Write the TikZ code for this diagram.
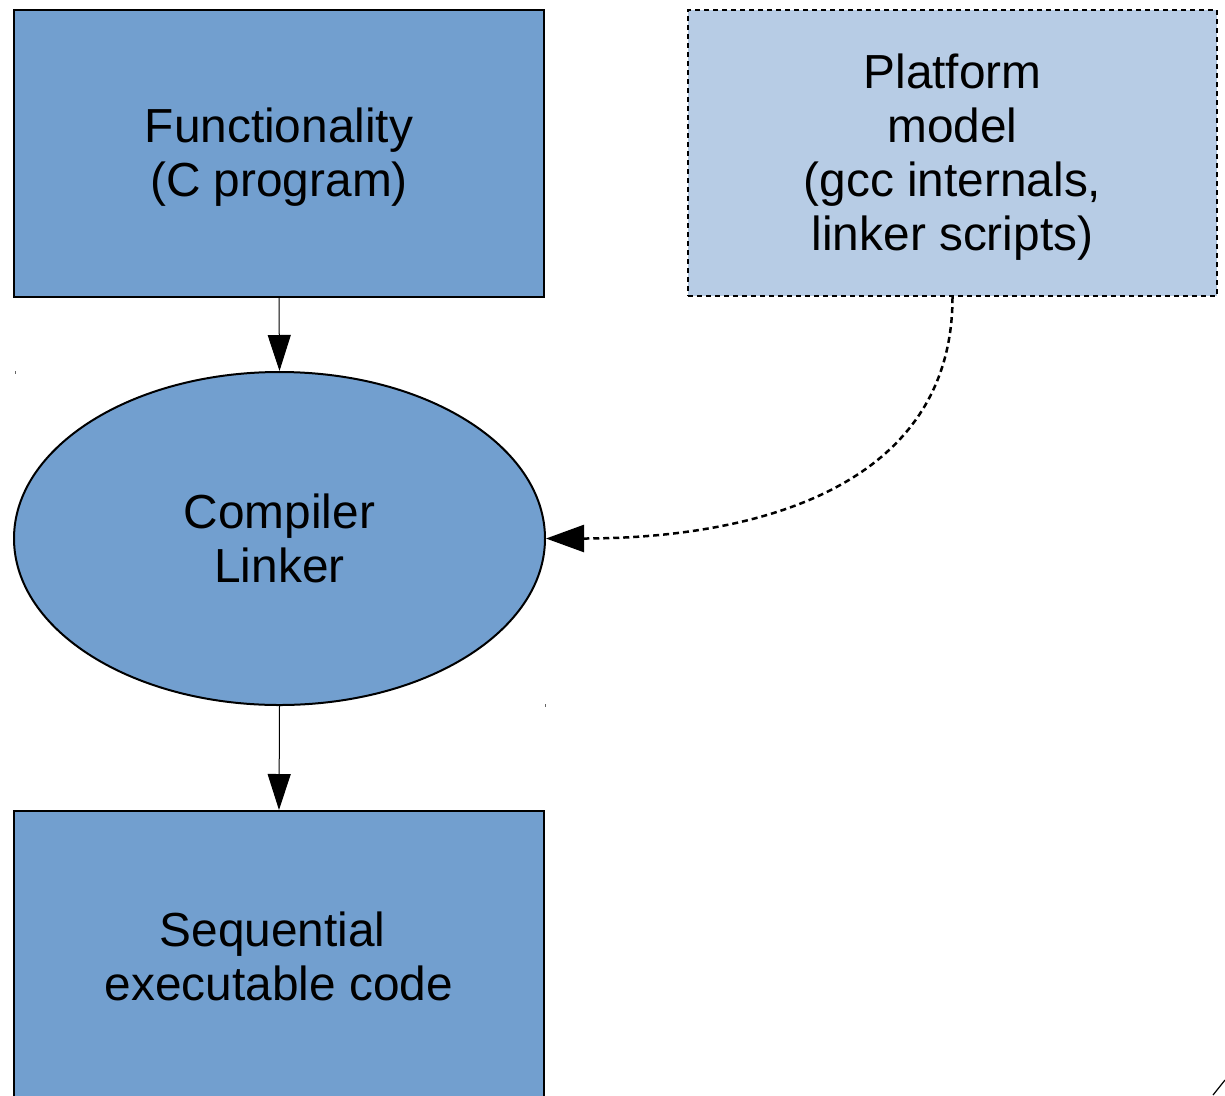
\documentclass[tikz,border=0pt]{standalone}
\usepackage{fontspec}
\setmainfont{Liberation Sans}
\usetikzlibrary{arrows.meta,shapes.geometric}
\definecolor{boxblue}{HTML}{729FCF}
\definecolor{lightblue}{HTML}{B7CCE5}
\tikzset{
  txt/.style={font=\fontsize{47.8}{54}\selectfont, align=center, text=black},
  solidbox/.style={txt, draw=black, line width=2pt, fill=boxblue, rectangle, minimum width=530pt, inner sep=0pt},
  dotbox/.style={txt, draw=black, line width=2.2pt, dash pattern=on 5pt off 4pt, fill=lightblue, rectangle, minimum width=529pt, minimum height=286pt, inner sep=0pt},
  ell/.style={txt, draw=black, line width=2pt, fill=boxblue, ellipse, minimum width=531pt, minimum height=333pt, inner sep=0pt},
  conn/.style={line width=1pt, -{Triangle[length=36pt,width=23pt]}},
  dconn/.style={line width=2.5pt, dash pattern=on 6pt off 4pt, -{Triangle[length=38pt,width=27pt]}},
}
\begin{document}
\begin{tikzpicture}[x=1pt,y=-1pt]
\useasboundingbox (0,0) rectangle (1225,1095);
\clip (0,0) rectangle (1225,1095);
\node[solidbox, minimum height=287pt] (func) at (279,153.5) {};
\node[txt, yshift=-4pt] (functxt) at (func.center) {Functionality\\(C program)};
\node[dotbox] (plat) at (952.5,153) {};
\node[txt, yshift=-4pt] (plattxt) at (plat.center) {Platform\\model\\(gcc internals,\hspace*{13pt}\\linker scripts)};
\node[ell] (comp) at (279.5,538.5) {Compiler\\Linker};
\node[solidbox, minimum height=290pt] (seq) at (279,956) {Sequential\hspace*{13pt}\\executable code};
\draw[conn] (func.south) -- (comp.north);
\draw[conn] (comp.south) -- (seq.north);
\draw[dconn] (plat.south) .. controls +(0,190) and +(210,0) .. (comp.east);
\coordinate (m1) at (15,371);
\coordinate (m2) at (545,704);
\coordinate (m3) at (1213,1095);
\draw[line width=1pt, black!60] (m1) -- +(0,3);
\draw[line width=1pt, black!60] (m2) -- +(0,3);
\draw[line width=1.2pt] (m3) -- +(12,-15);
\end{tikzpicture}
\end{document}
